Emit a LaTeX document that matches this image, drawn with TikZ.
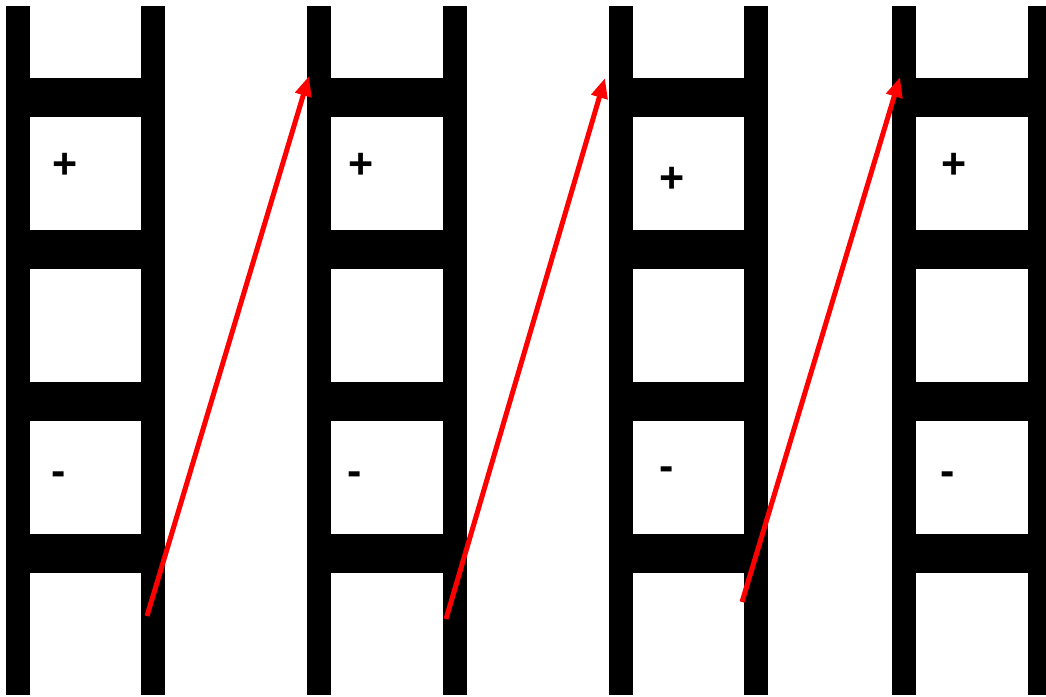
\documentclass[tikz,border=0pt]{standalone}
\usepackage{fontspec}
\setmainfont{Liberation Sans}
\usetikzlibrary{arrows.meta}

\begin{document}
\begin{tikzpicture}[x=1pt, y=-1pt,
  sign/.style={inner sep=0pt, font=\fontsize{43}{43}\selectfont\bfseries},
  jump/.style={-{Triangle[length=20pt, width=16pt]}, red, line width=5pt}]

  \useasboundingbox (0,0) rectangle (1046,696);

  % Ladders (left rail / right rail)
  \foreach \l/\r in {6/141, 307/443, 609/744, 892/1028} {
    \fill (\l,6) rectangle ++(24,689);
    \fill (\r,6) rectangle ++(24,689);
    \foreach \y in {78,230,382,534}
      \fill (\l,\y) rectangle (\r+24,\y+39);
  }

  % Charges
  \node[sign] (p1) at (65,166)  {+};
  \node[sign] (p2) at (361,166) {+};
  \node[sign] (p3) at (672,180) {+};
  \node[sign] (p4) at (954,166) {+};
  \node[sign] (m1) at (59,479)  {-};
  \node[sign] (m2) at (355,479) {-};
  \node[sign] (m3) at (667,474) {-};
  \node[sign] (m4) at (948,479) {-};

  % Red arrows between ladders
  \coordinate (s1) at (147,616);
  \coordinate (t1) at (309,76);
  \coordinate (s2) at (446,619);
  \coordinate (t2) at (605,78);
  \coordinate (s3) at (742,602);
  \coordinate (t3) at (900,77);
  \draw[jump] (s1) -- (t1);
  \draw[jump] (s2) -- (t2);
  \draw[jump] (s3) -- (t3);

\end{tikzpicture}
\end{document}
